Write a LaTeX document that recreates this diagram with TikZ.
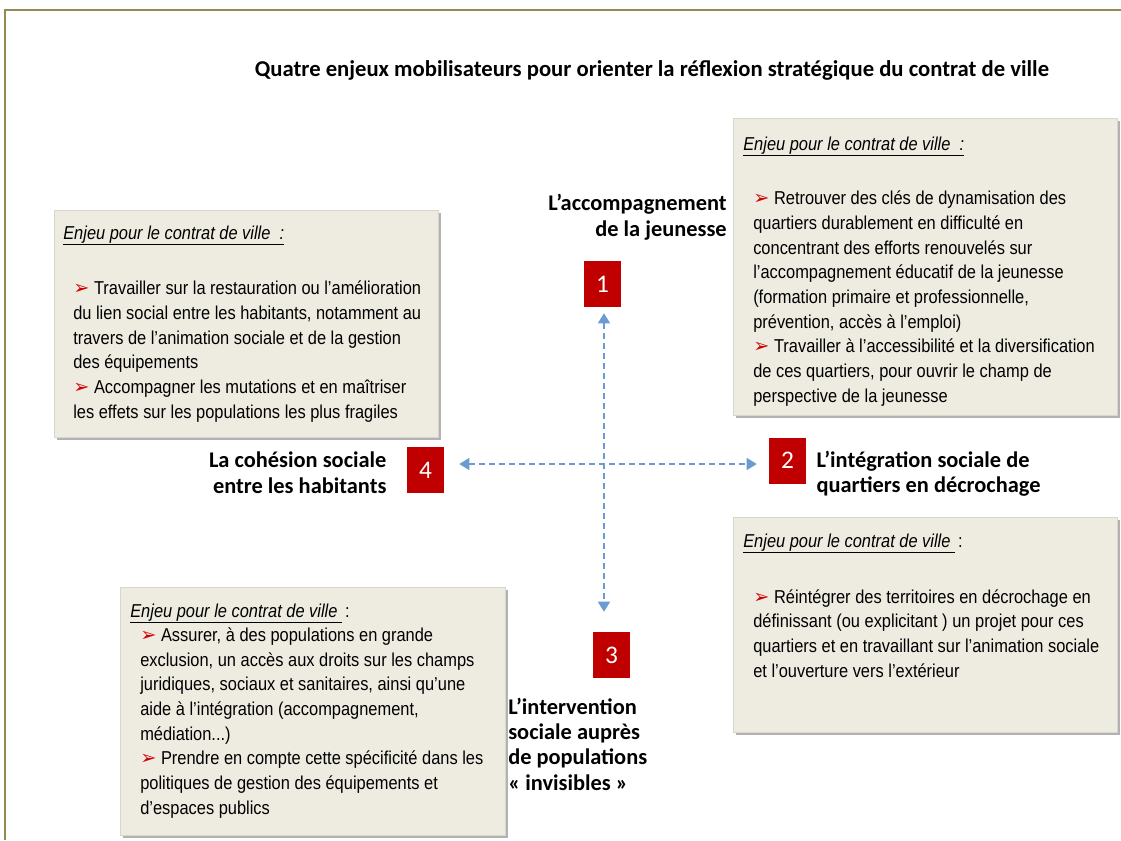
\documentclass[tikz,border=0pt]{standalone}
\usepackage{fontspec}
\setmainfont{Liberation Sans}[FakeStretch=0.88]
\newfontfamily\labelfont{Carlito}
\newfontfamily\dingfont{DejaVu Sans}
\usepackage{xcolor}
\usetikzlibrary{arrows.meta,fit,positioning,shadows}
\definecolor{frame}{HTML}{948A54}
\definecolor{paper}{HTML}{EEECE1}
\definecolor{edge}{HTML}{D9D6CC}
\definecolor{numred}{HTML}{C00000}
\definecolor{bulletred}{HTML}{D00000}
\definecolor{axisblue}{HTML}{6C9BD2}
\newcommand{\puce}{{\dingfont\color{bulletred}\fontsize{14.5}{14}\selectfont ➢}\ }
\newcommand{\enjeu}{\underline{\textit{Enjeu pour le contrat de ville\ \ :}}}
\newcommand{\enjeubis}{\underline{\textit{Enjeu pour le contrat de ville\ }}\,:}
\tikzset{
  enjeubox/.style={draw=edge, fill=paper, inner sep=0pt, line width=0.5pt,
    drop shadow={shadow xshift=2.4pt, shadow yshift=-2.4pt, fill=black!55, opacity=0.55}},
  enjeuhead/.style={anchor=base west, inner sep=0pt, font=\fontsize{14}{18.5}\selectfont},
  % base = ligne du bas
  enjeutext/.style={anchor=base west, inner sep=0pt, align=left, font=\fontsize{14}{18.5}\selectfont},
  numbox/.style={fill=numred, text=white, minimum width=27.75pt, minimum height=34.5pt,
    inner sep=0pt, font=\labelfont\fontsize{19}{19}\selectfont},
  axelabel/.style={inner sep=0pt, font=\labelfont\bfseries\fontsize{16.8}{19}\selectfont},
  axis/.style={draw=axisblue, line width=1.1pt, dash pattern=on 4.5pt off 3pt,
    {Triangle[length=7.5pt,width=9pt]}-{Triangle[length=7.5pt,width=9pt]}}
}
\begin{document}
\begin{tikzpicture}[x=0.75pt, y=-0.75pt]
  \useasboundingbox (0,0) rectangle (1121,840);
  \draw[frame, line width=1.1pt] (5,840) |- (1121,10);

  \node[anchor=base, inner sep=0pt, font=\labelfont\bfseries\fontsize{17}{18}\selectfont] (title) at (652,76)
    {Quatre enjeux mobilisateurs pour orienter la réflexion stratégique du contrat de ville};

  % les quatre encadres
  \node[enjeubox, fit={(733,118) (1117,415)}] (boxjeunes) {};
  \node[enjeuhead] (headjeunes) at (743,150) {\enjeu};
  \node[enjeutext] (textjeunes) at (753,402) {\puce Retrouver des clés de dynamisation des\\quartiers durablement en difficulté en\\concentrant des efforts renouvelés sur\\l’accompagnement éducatif de la jeunesse\\(formation primaire et professionnelle,\\prévention, accès à l’emploi)\\\puce Travailler à l’accessibilité et la diversification\\de ces quartiers, pour ouvrir le champ de\\perspective de la jeunesse};

  \node[enjeubox, fit={(54,210) (438,437)}] (boxcohesion) {};
  \node[enjeuhead] (headcohesion) at (63,239) {\enjeu};
  \node[enjeutext] (textcohesion) at (73,418) {\puce Travailler sur la restauration ou l’amélioration\\du lien social entre les habitants, notamment au\\travers de l’animation sociale et de la gestion\\des équipements\\\puce Accompagner les mutations et en maîtriser\\les effets sur les populations les plus fragiles};

  \node[enjeubox, fit={(733,517) (1117,732)}] (boxquartiers) {};
  \node[enjeuhead] (headquartiers) at (743,547) {\enjeubis};
  \node[enjeutext] (textquartiers) at (753,677) {\puce Réintégrer des territoires en décrochage en\\définissant (ou explicitant ) un projet pour ces\\quartiers et en travaillant sur l’animation sociale\\et l’ouverture vers l’extérieur};

  \node[enjeubox, fit={(120,587) (505,835)}] (boxinvisibles) {};
  \node[enjeuhead] (headinvisibles) at (130,617) {\enjeubis};
  \node[enjeutext] (textinvisibles) at (140,814) {\puce Assurer, à des populations en grande\\exclusion, un accès aux droits sur les champs\\juridiques, sociaux et sanitaires, ainsi qu’une\\aide à l’intégration (accompagnement,\\médiation...)\\\puce Prendre en compte cette spécificité dans les\\politiques de gestion des équipements et\\d’espaces publics};

  % les quatre enjeux
  \node[numbox] (un) at (602.5,284) {1};
  \node[numbox] (deux) at (787.5,460.5) {2};
  \node[numbox] (trois) at (611.5,655) {3};
  \node[numbox] (quatre) at (425.5,470) {4};

  \node[axelabel, align=right, anchor=base east] (labun) at (727,236) {L’accompagnement\\de la jeunesse};
  \node[axelabel, align=left, right=7.5pt of deux, yshift=-10pt] (labdeux) {L’intégration sociale de\\quartiers en décrochage};
  \node[axelabel, align=left, anchor=base west] (labtrois) at (508,790) {L’intervention\\sociale auprès\\de populations\\« invisibles »};
  \node[axelabel, align=right, left=15pt of quatre, yshift=-2pt] (labquatre) {La cohésion sociale\\entre les habitants};

  \coordinate (vdep) at ([xshift=1.1pt]un.south);
  \coordinate (hdep) at ([yshift=4.5pt]quatre.east);
  \draw[axis, shorten <=4.5pt, shorten >=15pt] (vdep) -- (vdep |- trois.north);
  \draw[axis, shorten <=11.25pt, shorten >=9pt] (hdep) -- (hdep -| deux.west);
\end{tikzpicture}
\end{document}
